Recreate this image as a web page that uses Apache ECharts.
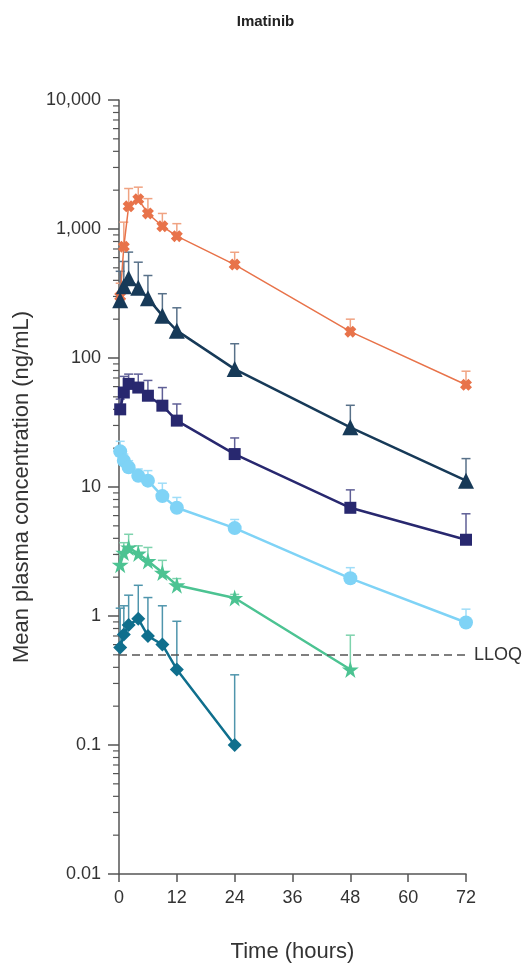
<!DOCTYPE html>
<html><head><meta charset="utf-8">
<script src="https://cdn.jsdelivr.net/npm/echarts@6/dist/echarts.min.js"></script>
<style>html,body{margin:0;padding:0;background:#fff}#c{width:531px;height:972px}</style>
</head><body><div id="c"></div>
<script>
// ---- data ----
const times = [0.25, 1, 2, 4, 6, 9, 12, 24, 48, 72];
const crossMean   = [300, 730, 1500, 1700, 1320, 1050, 880, 530, 160, 62];
const crossUpper  = [380, 1130, 2060, 2110, 1720, 1320, 1100, 660, 200, 79];
const triMean     = [280, 360, 415, 350, 290, 213, 163, 82, 29, 11.2];
const triUpper    = [470, 560, 662, 553, 436, 315, 245, 129, 43, 16.6];
const sqMean      = [40, 54, 63, 59, 51, 42.7, 32.7, 18, 6.9, 3.9];
const sqUpper     = [48, 72, 75, 75, 67, 59, 44, 24, 9.5, 6.2];
const circMean    = [18.9, 16, 14.2, 12.2, 11.2, 8.5, 6.9, 4.8, 1.96, 0.89];
const circUpper   = [22.6, 18, 16, 13.8, 13.4, 10.7, 8.3, 5.6, 2.37, 1.13];
const starTimes   = [0.25, 1, 2, 4, 6, 9, 12, 24, 48];
const starMean    = [2.5, 3.1, 3.4, 3.05, 2.67, 2.17, 1.73, 1.38, 0.385];
const starUpper   = [3.0, 3.7, 4.3, 3.5, 3.4, 2.7, 1.95, 1.47, 0.71];
const diaTimes    = [0.25, 1, 2, 4, 6, 9, 12, 24];
const diaMean     = [0.57, 0.72, 0.85, 0.95, 0.70, 0.60, 0.385, 0.1];
const diaUpper    = [1.15, 1.2, 1.45, 1.73, 1.39, 1.2, 0.91, 0.35];
const xTicks = [0, 12, 24, 36, 48, 60, 72];
const yTickLabels = ['0.01', '0.1', '1', '10', '100', '1,000', '10,000'];
const lloq = 0.5;

// ---- styles ----
const FONT = 'Liberation Sans, Arial, sans-serif';
const AX = '#555555';
const cOrange = '#E8734A', cTri = '#173A58', cSq = '#28286F', cCirc = '#7FD3F6', cStar = '#4CC392', cDia = '#0F6F8D';
const eOrange = '#F0A382', eTri = '#587189', eSq = '#5F5F96', eCirc = '#9FDDF8', eStar = '#7ED3AD', eDia = '#4F95AC';

const xPath = 'path://M0,3 L3,0 L5,2 L7,0 L10,3 L8,5 L10,7 L7,10 L5,8 L3,10 L0,7 L2,5 Z';
const starPath = 'path://M50,0 L61,35 L98,35 L68,57 L79,91 L50,70 L21,91 L32,57 L2,35 L39,35 Z';

function pairs(t, v) { return t.map((x, i) => [x, v[i]]); }
function triples(t, v, u) { return t.map((x, i) => [x, v[i], u[i]]); }

function errSeries(t, v, u, color) {
  return {
    type: 'custom', z: 1, silent: true, clip: false,
    data: triples(t, v, u),
    encode: { x: 0, y: 1 },
    renderItem: function (params, api) {
      const x = api.value(0), m = api.value(1), up = api.value(2);
      const p1 = api.coord([x, m]), p2 = api.coord([x, up]);
      return { type: 'group', children: [
        { type: 'line', shape: { x1: p1[0], y1: p1[1], x2: p2[0], y2: p2[1] }, style: { stroke: color, lineWidth: 1.5 } },
        { type: 'line', shape: { x1: p2[0] - 4.5, y1: p2[1], x2: p2[0] + 4.5, y2: p2[1] }, style: { stroke: color, lineWidth: 1.5 } }
      ]};
    }
  };
}
function lineSeries(name, t, v, color, symbol, size, lw) {
  return {
    name: name, type: 'line', z: 3, data: pairs(t, v),
    symbol: symbol, symbolSize: size, showSymbol: true,
    lineStyle: { color: color, width: lw },
    itemStyle: { color: color, borderWidth: 0 },
    emphasis: { disabled: true }, animation: false
  };
}

// minor ticks at 2..9 x 10^k, placed through the y scale
const minorVals = [];
for (let k = -2; k <= 3; k++) for (let m = 2; m <= 9; m++) minorVals.push([0, m * Math.pow(10, k)]);

const chart = echarts.init(document.getElementById('c'), null, { renderer: 'canvas' });
chart.setOption({
  animation: false,
  backgroundColor: '#ffffff',
  title: { text: 'Imatinib', left: 'center', top: 9,
    textStyle: { fontFamily: FONT, fontSize: 15, fontWeight: 'bold', color: '#222' } },
  grid: { left: 119, right: 65, top: 100, bottom: 98, containLabel: false },
  xAxis: {
    type: 'value', min: 0, max: 72, interval: 12,
    name: 'Time (hours)', nameLocation: 'middle', nameGap: 67,
    nameTextStyle: { fontFamily: FONT, fontSize: 22, color: '#333' },
    axisLine: { show: true, onZero: false, lineStyle: { color: AX, width: 1.5 } },
    axisTick: { show: true, length: 8, inside: false, lineStyle: { color: AX, width: 1.5 } },
    axisLabel: { fontFamily: FONT, fontSize: 18, color: '#333', margin: 15 },
    splitLine: { show: false }
  },
  yAxis: {
    type: 'log', logBase: 10, min: 0.01, max: 10000, interval: 1,
    name: 'Mean plasma concentration (ng/mL)', nameLocation: 'middle', nameGap: 86, nameRotate: 90,
    nameTextStyle: { fontFamily: FONT, fontSize: 22, color: '#333' },
    axisLine: { show: true, onZero: false, lineStyle: { color: AX, width: 1.5 } },
    axisTick: { show: true, length: 11, lineStyle: { color: AX, width: 1.5 } },
    axisLabel: { fontFamily: FONT, fontSize: 18, color: '#333', margin: 18,
      formatter: function (v) { const e = Math.round(Math.log10(v)); return yTickLabels[e + 2] || ''; } },
    splitLine: { show: false }
  },
  series: [
    {
      type: 'custom', z: 2, silent: true, clip: false, data: minorVals, encode: { x: 0, y: 1 },
      renderItem: function (params, api) {
        const p = api.coord([api.value(0), api.value(1)]);
        return { type: 'line', shape: { x1: p[0] - 6, y1: p[1], x2: p[0], y2: p[1] }, style: { stroke: AX, lineWidth: 1.2 } };
      }
    },
    errSeries(times, crossMean, crossUpper, eOrange),
    errSeries(times, triMean, triUpper, eTri),
    errSeries(times, sqMean, sqUpper, eSq),
    errSeries(times, circMean, circUpper, eCirc),
    errSeries(starTimes, starMean, starUpper, eStar),
    errSeries(diaTimes, diaMean, diaUpper, eDia),
    Object.assign(lineSeries('cross', times, crossMean, cOrange, xPath, 12, 1.5), {
      markLine: {
        silent: true, symbol: 'none', animation: false,
        lineStyle: { color: '#555', type: [8, 5], width: 1.5 },
        label: { show: true, position: 'end', formatter: 'LLOQ', fontFamily: FONT, fontSize: 18, color: '#333', distance: 8 },
        data: [{ yAxis: lloq }]
      }
    }),
    lineSeries('tri', times, triMean, cTri, 'triangle', 16, 2.5),
    lineSeries('sq', times, sqMean, cSq, 'rect', 12, 2.5),
    lineSeries('circ', times, circMean, cCirc, 'circle', 14, 2.5),
    lineSeries('star', starTimes, starMean, cStar, starPath, 17, 2.5),
    lineSeries('dia', diaTimes, diaMean, cDia, 'diamond', 14, 2.5)
  ]
});
</script>
</body></html>
